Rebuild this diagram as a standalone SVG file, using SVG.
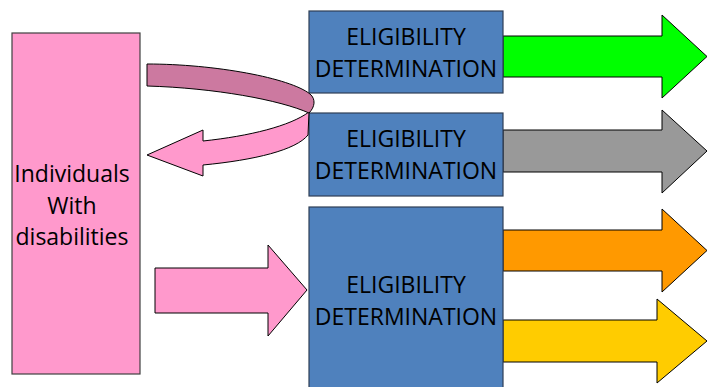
<svg xmlns="http://www.w3.org/2000/svg" width="708" height="387" viewBox="0 0 708 387">
<style>
.box{fill:#4F81BD;stroke:#2F3F55;stroke-width:1.2}
.pinkbox{fill:#FF99CC;stroke:#404040;stroke-width:1.2}
.arr{stroke:#000;stroke-width:1}
.t{font-family:"Open Sans","Noto Sans",sans-serif;font-size:23px;fill:#000;text-anchor:middle}
</style>
<rect width="708" height="387" fill="#fff"/>
<g id="connectors">
  <path id="arrow-green" class="arr" fill="#00FF00" d="M503,36 H662 V15 L707,56.5 L662,98 V77 H503 Z"/>
  <path id="arrow-gray" class="arr" fill="#999999" d="M503,130 H662 V110 L707,151 L662,193 V172 H503 Z"/>
  <path id="arrow-orange" class="arr" fill="#FF9900" d="M503,230 H662 V209 L707,250.5 L662,292 V271 H503 Z"/>
  <path id="arrow-yellow" class="arr" fill="#FFCC00" d="M503,320 H657 V299 L707,341 L657,383 V362 H503 Z"/>
  <path id="arrow-pink" class="arr" fill="#FF99CC" d="M155,268 H268 V245 L307,290 L268,336 V313 H155 Z"/>
</g>
<g id="node-individuals">
  <rect class="pinkbox" x="12" y="33" width="128" height="341"/>
  <text class="t" x="72" y="182">Individuals</text>
  <text class="t" x="72" y="214">With</text>
  <text class="t" x="72" y="245">disabilities</text>
</g>
<g id="node-eligibility-1">
  <rect class="box" x="309" y="11" width="194" height="82"/>
  <text class="t" x="406" y="45">ELIGIBILITY</text>
  <text class="t" x="406" y="77">DETERMINATION</text>
</g>
<g id="node-eligibility-2">
  <rect class="box" x="309" y="113" width="194" height="83"/>
  <text class="t" x="406" y="147">ELIGIBILITY</text>
  <text class="t" x="406" y="179">DETERMINATION</text>
</g>
<g id="node-eligibility-3">
  <rect class="box" x="309" y="207" width="194" height="185"/>
  <text class="t" x="406" y="293">ELIGIBILITY</text>
  <text class="t" x="406" y="325">DETERMINATION</text>
</g>
<g id="connector-curved">
  <path class="arr" fill="#FF99CC" d="M309,112 C290,126 250,136 203,141 L203,130 L147,155 L203,176 L203,165 C255,160 296,150 308,135 L309,112 Z"/>
  <path class="arr" fill="#CC79A0" d="M147,64 C215,64 290,78 310,94 C316,99 315,107 309,113 C280,100 215,88 147,86 Z"/>
</g>
</svg>
